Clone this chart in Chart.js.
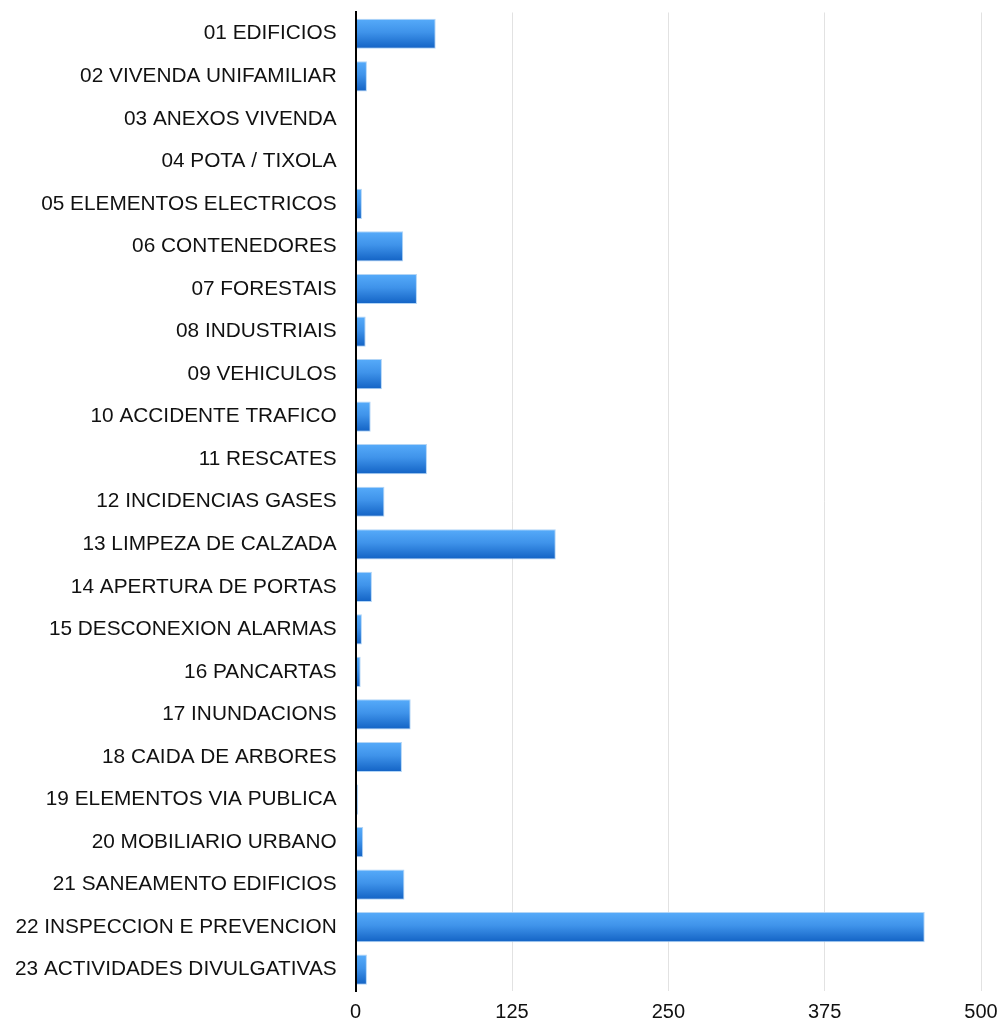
<!DOCTYPE html>
<html>
<head>
<meta charset="utf-8">
<script src="https://cdn.jsdelivr.net/npm/chart.js@4"></script>
<style>
  html, body { margin: 0; padding: 0; background: #fff; }
  #wrap { width: 1003px; height: 1023px; position: relative; }
</style>
</head>
<body>
<div id="wrap"><canvas id="servizosChart"></canvas></div>
<script>
const categorias = [
  '01 EDIFICIOS', '02 VIVENDA UNIFAMILIAR', '03 ANEXOS VIVENDA', '04 POTA / TIXOLA',
  '05 ELEMENTOS ELECTRICOS', '06 CONTENEDORES', '07 FORESTAIS', '08 INDUSTRIAIS',
  '09 VEHICULOS', '10 ACCIDENTE TRAFICO', '11 RESCATES', '12 INCIDENCIAS GASES',
  '13 LIMPEZA DE CALZADA', '14 APERTURA DE PORTAS', '15 DESCONEXION ALARMAS', '16 PANCARTAS',
  '17 INUNDACIONS', '18 CAIDA DE ARBORES', '19 ELEMENTOS VIA PUBLICA', '20 MOBILIARIO URBANO',
  '21 SANEAMENTO EDIFICIOS', '22 INSPECCION E PREVENCION', '23 ACTIVIDADES DIVULGATIVAS'
];

const servizos = [64, 9, 1, 1, 5, 38, 49, 8, 21, 12, 57, 23, 160, 13, 5, 4, 44, 37, 2, 6, 39, 455, 9];

const ticksX = [0, 125, 250, 375, 500];

const ctx = document.getElementById('servizosChart');

// gradiente vertical por barra (claro arriba, escuro abaixo)
function recheoBarra(c){
  const chart = c.chart;
  const sy = chart.scales && chart.scales.y;
  if(!sy || !chart.chartArea || c.dataIndex === undefined) return '#3a8ce6';
  const yc = sy.getPixelForValue(c.dataIndex);
  const g = chart.ctx.createLinearGradient(0, yc - 15, 0, yc + 15);
  g.addColorStop(0, '#56abfa');
  g.addColorStop(0.45, '#3f93ea');
  g.addColorStop(1, '#1262c4');
  return g;
}

new Chart(ctx, {
  type: 'bar',
  data: {
    labels: categorias,
    datasets: [{
      label: 'Servizos',
      data: servizos,
      backgroundColor: recheoBarra,
      borderColor: 'rgba(170,208,245,0.9)',
      borderWidth: 1,
      borderSkipped: 'left',
      barPercentage: 0.71,
      categoryPercentage: 1
    }]
  },
  options: {
    indexAxis: 'y',
    responsive: true,
    maintainAspectRatio: false,
    animation: false,
    layout: { padding: { top: 12, left: 15, right: 22, bottom: 0 } },
    plugins: {
      legend: { display: false },
      tooltip: { enabled: false }
    },
    scales: {
      x: {
        min: 0,
        max: 500,
        afterBuildTicks: (ax) => { ax.ticks = ticksX.map(v => ({ value: v })); },
        grid: { color: '#e2e2e2', lineWidth: 1, drawTicks: true, tickLength: 11, tickColor: 'rgba(0,0,0,0)' },
        border: { display: false },
        ticks: {
          color: '#111',
          padding: 3,
          font: { family: 'Liberation Sans', size: 20, lineHeight: 0.75 }
        }
      },
      y: {
        grid: { display: true, drawOnChartArea: false, drawTicks: true, tickLength: 19, tickColor: 'rgba(0,0,0,0)' },
        border: { display: true, color: '#000', width: 2, z: 1 },
        ticks: {
          color: '#111',
          padding: 0,
          font: { family: 'Liberation Sans', size: 20.8 }
        }
      }
    }
  }
});
</script>
</body>
</html>
